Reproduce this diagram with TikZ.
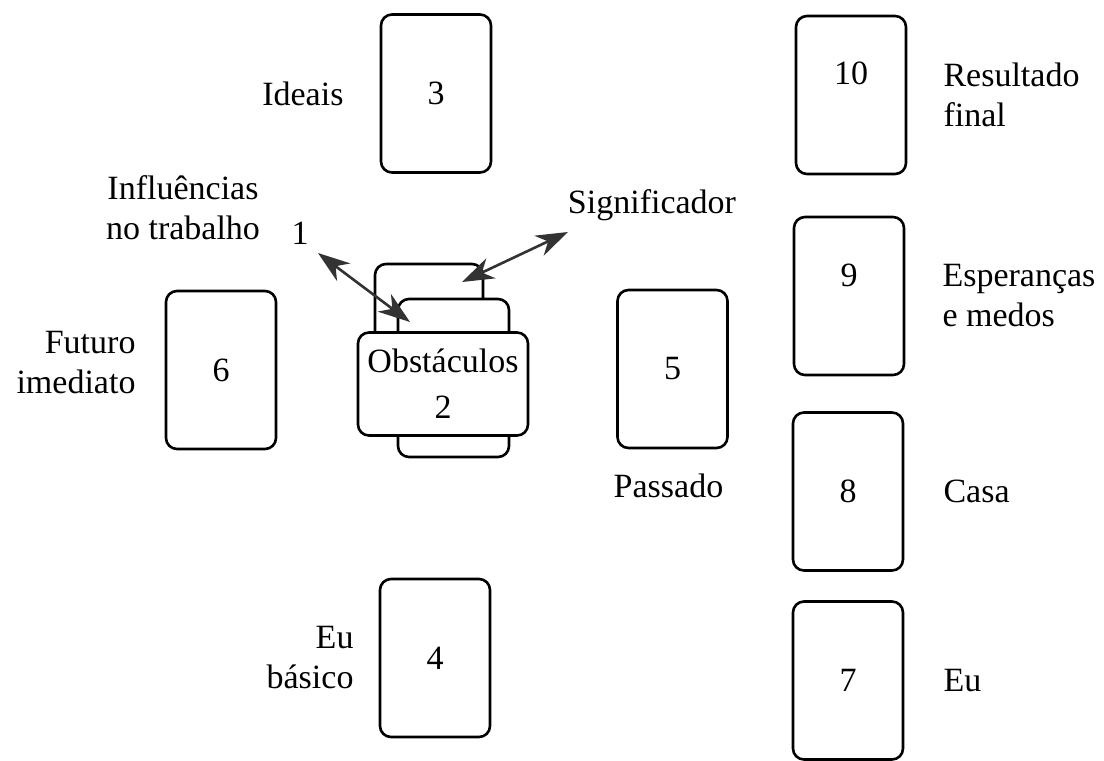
\documentclass[tikz,border=0pt]{standalone}
\usepackage{fontspec}
\setmainfont{Liberation Serif}
\usetikzlibrary{positioning, arrows.meta, calc}

\begin{document}
\begin{tikzpicture}[
    x=1pt, y=-1pt,
    font=\fontsize{34}{40}\selectfont,
    >={Stealth[length=32pt, width=22pt, inset=10pt]},
    card/.style={draw, line width=2.6pt, rounded corners=11pt, fill=white,
                 minimum width=110pt, minimum height=158pt, inner sep=0pt},
    wide/.style={card, minimum width=170pt, minimum height=103pt,
                 align=center},
    tag/.style={inner sep=0pt, align=left},
    link/.style={<->, line width=2.6pt, black!80}
]
\useasboundingbox (0,0) rectangle (1104,761);

% --- Coluna da direita ---
\node[card] (c10) at (851,95)    {\raisebox{44pt}{10}};
\node[card] (c9)  at (849,296)   {\raisebox{42pt}{9}};
\node[card] (c8)  at (848,491.5) {8};
\node[card] (c7)  at (848,680.5) {\raisebox{-18pt}{7}};

\node[tag, right=36pt of c10] (resultado) {Resultado\\final};
\node[tag, right=37pt of c9]  (esperancas) {Esperanças\\e medos};
\node[tag, right=39pt of c8]  (casa) {Casa};
\node[tag, right=39pt of c7]  (eu) {Eu};

% --- Cruz ---
\node[card] (c3) at (436,93.5) {3};
\node[card] (c6) at (221,370)  {\raisebox{-14pt}{6}};
\node[card] (c5) at (672.5,369) {5};
\node[card] (c4) at (435,658)  {4};

\node[tag, left=36pt of c3] (ideais) {Ideais};
\node[tag, align=right, left=29pt of c6, yshift=7pt] (futuro) {Futuro\\imediato};
\node[tag, below=24pt of c5, xshift=-4pt] (passado) {Passado};
\node[tag, align=right, left=25pt of c4] (basico) {Eu\\básico};

% --- Centro: significador, 1 e 2 ---
\node[card, minimum width=108pt, minimum height=156pt] (sig) at (429,342) {};
\node[card, minimum width=111pt] (c1) at (453.5,378) {};
\node[wide] (c2) at (443,384) {Obstáculos\\[6pt]2};

\node[tag, align=center] (influencias) at (183,208) {Influências\\no trabalho};
\node[tag] (um) at (300,233) {1};
\node[tag] (significador) at (652,205) {Significador};

% --- Setas ---
\coordinate (p1) at (318,253);
\coordinate (q1) at (410,322);
\coordinate (p2) at (568,232);
\coordinate (q2) at (462,282);
\draw[link] (p1) -- (q1);
\draw[link] (p2) -- (q2);

\end{tikzpicture}
\end{document}
